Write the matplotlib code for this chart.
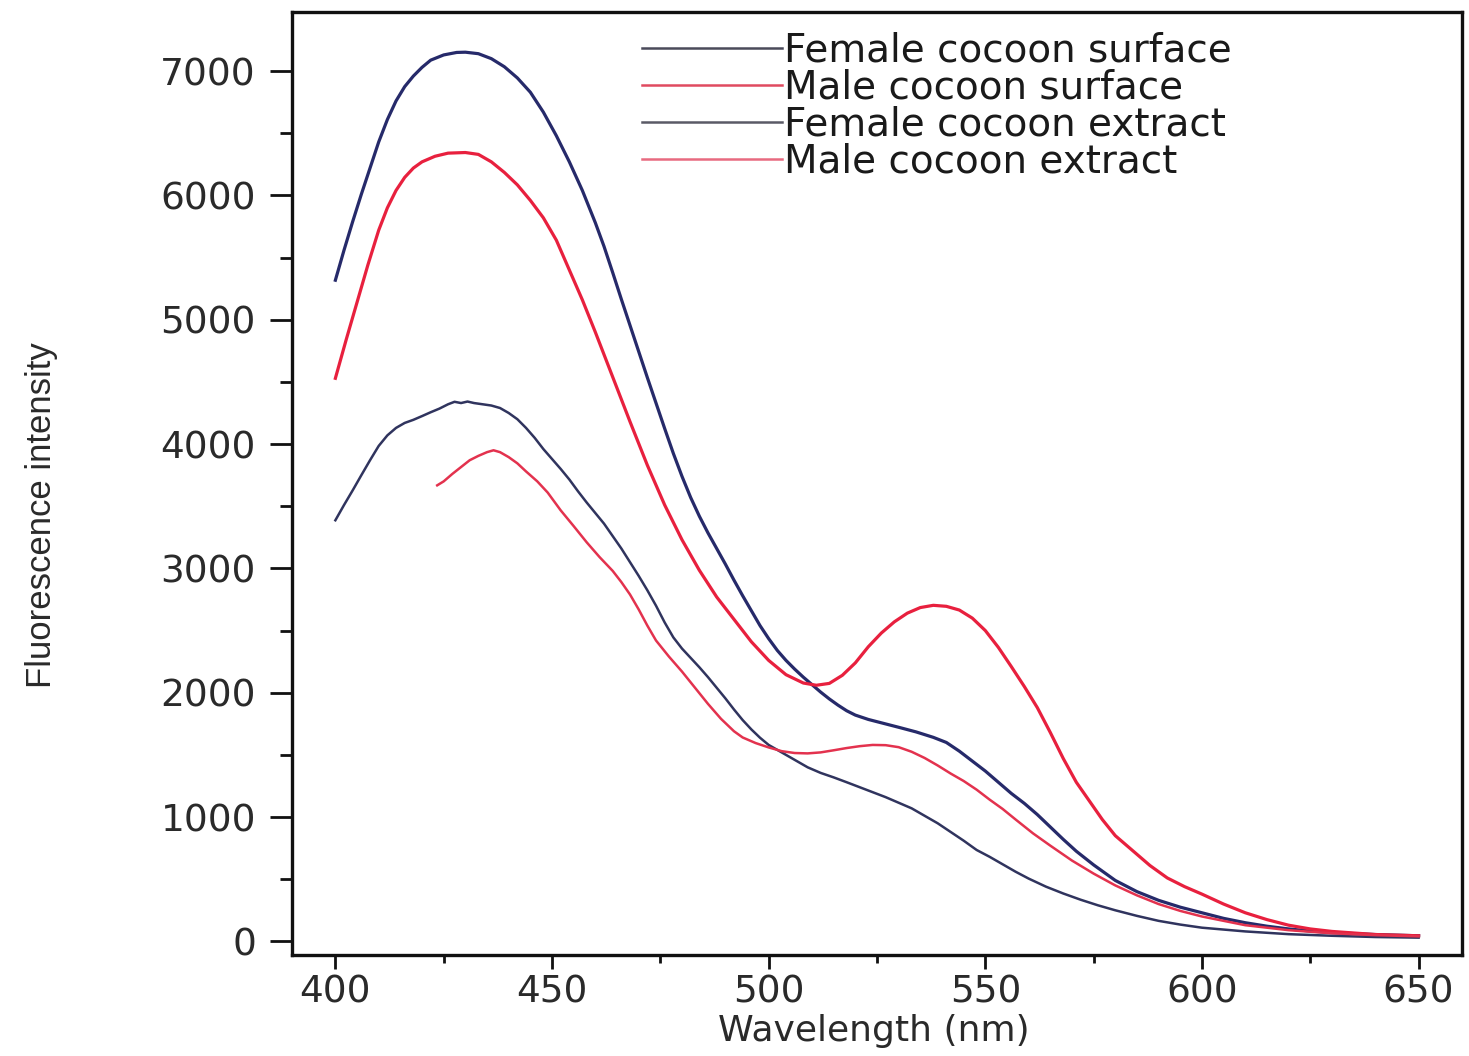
import matplotlib
matplotlib.use("Agg")
import matplotlib.pyplot as plt
from matplotlib.ticker import MultipleLocator

# ---------------- data ----------------
fs_nm = [400, 402, 404, 406, 408, 410, 412, 414, 416, 418, 420, 422, 425, 428, 430,
         433, 436, 439, 442, 445, 448, 451, 454, 457, 460, 462, 464, 466, 468, 470,
         472, 474, 476, 478, 480, 482, 484, 486, 488, 490, 492, 494, 496, 498, 500,
         502, 504, 506, 508, 510, 512, 514, 516, 518, 520, 523, 526, 530, 534, 538,
         541, 544, 547, 550, 553, 556, 559, 562, 565, 568, 571, 575, 580, 585, 590,
         595, 600, 605, 610, 615, 620, 625, 630, 640, 650]
fs_val = [5318, 5560, 5790, 6010, 6220, 6430, 6610, 6760, 6875, 6960, 7030, 7088, 7130,
          7150, 7152, 7140, 7100, 7035, 6945, 6830, 6670, 6480, 6270, 6040, 5780, 5590,
          5380, 5165, 4955, 4745, 4535, 4330, 4125, 3925, 3740, 3570, 3420, 3285, 3160,
          3035, 2905, 2780, 2660, 2540, 2435, 2340, 2260, 2190, 2125, 2065, 2005, 1950,
          1900, 1855, 1820, 1785, 1758, 1722, 1685, 1641, 1600, 1530, 1450, 1370, 1280,
          1190, 1110, 1020, 920, 820, 725, 615, 490, 400, 330, 275, 230, 185, 150, 122,
          100, 83, 70, 55, 45]

ms_nm = [400, 402.5, 405, 407.5, 410, 412, 414, 416, 418, 420, 423, 426, 430, 433, 436,
         439, 442, 445, 448, 451, 454, 457, 460, 464, 468, 472, 476, 480, 484, 488, 492,
         496, 500, 504, 508, 511, 514, 517, 520, 523, 526, 529, 532, 535, 538, 541, 544,
         547, 550, 553, 556, 559, 562, 565, 568, 571, 574, 577, 580, 584, 588, 592, 596,
         600, 605, 610, 615, 620, 625, 630, 640, 650]
ms_val = [4529, 4840, 5140, 5440, 5720, 5900, 6040, 6145, 6220, 6270, 6315, 6340, 6345,
          6330, 6270, 6185, 6085, 5960, 5820, 5640, 5400, 5160, 4900, 4540, 4180, 3830,
          3510, 3230, 2985, 2770, 2590, 2410, 2260, 2145, 2078, 2060, 2075, 2140, 2240,
          2370, 2480, 2570, 2640, 2685, 2703, 2695, 2665, 2600, 2500, 2365, 2210, 2050,
          1880, 1680, 1470, 1280, 1130, 980, 850, 730, 610, 510, 440, 380, 300, 230,
          175, 130, 100, 80, 55, 45]

fe_nm = [400, 402, 404, 406, 408, 410, 412, 414, 416, 418, 420, 422, 424, 426, 427.5,
         429, 430.5, 432, 434, 436, 438, 440, 442, 444, 446, 448, 450, 452, 454, 456,
         458, 460, 462, 464, 466, 468, 470, 472, 474, 476, 478, 480, 482, 484, 486, 488,
         490, 492, 494, 496, 498, 500, 503, 506, 509, 512, 515, 518, 521, 524, 527, 530,
         533, 536, 539, 542, 545, 548, 551, 554, 557, 560, 564, 568, 572, 576, 580, 585,
         590, 595, 600, 610, 620, 630, 640, 650]
fe_val = [3387, 3510, 3628, 3750, 3870, 3985, 4070, 4130, 4170, 4195, 4225, 4256, 4285,
          4320, 4340, 4330, 4342, 4330, 4320, 4310, 4290, 4250, 4200, 4130, 4050, 3960,
          3880, 3800, 3715, 3620, 3530, 3445, 3360, 3260, 3160, 3050, 2940, 2824, 2700,
          2565, 2445, 2355, 2280, 2205, 2125, 2040, 1955, 1865, 1780, 1705, 1638, 1580,
          1520, 1460, 1400, 1355, 1319, 1280, 1240, 1200, 1160, 1115, 1070, 1010, 950,
          880, 810, 735, 680, 620, 560, 505, 440, 385, 335, 290, 250, 205, 165, 135, 110,
          80, 58, 45, 35, 30]

me_nm = [423.5, 425, 427, 429, 431, 433, 435, 436.5, 438, 440, 442, 444, 446.6, 449,
         452, 455, 458, 461, 464, 466, 468, 470, 472, 474, 477, 480, 483, 486, 489, 492,
         494, 497, 500, 503, 506, 509, 512, 515, 518, 521, 524, 527, 530, 533, 536, 539,
         542, 545, 548, 551, 554, 557, 561, 565, 570, 575, 580, 585, 590, 595, 600, 610,
         620, 630, 640, 650]
me_val = [3668, 3700, 3760, 3815, 3870, 3905, 3935, 3950, 3935, 3895, 3845, 3780, 3700,
          3610, 3467, 3340, 3210, 3090, 2980, 2890, 2790, 2670, 2540, 2420, 2290, 2170,
          2040, 1910, 1790, 1690, 1640, 1595, 1560, 1530, 1515, 1512, 1520, 1537, 1555,
          1570, 1580, 1578, 1562, 1525, 1475, 1415, 1350, 1290, 1220, 1140, 1065, 980,
          869, 770, 650, 545, 450, 370, 300, 245, 200, 130, 90, 65, 50, 40]

labels = ["Female cocoon surface", "Male cocoon surface",
          "Female cocoon extract", "Male cocoon extract"]
x_ticks = [400, 450, 500, 550, 600, 650]
y_ticks = [0, 1000, 2000, 3000, 4000, 5000, 6000, 7000]

# ---------------- figure ----------------
fig = plt.figure(figsize=(14.69, 10.56), dpi=100)
ax = fig.add_axes([0.1988, 0.0956, 0.7964, 0.893])

navy = "#262a6a"
red = "#e8203e"
navy2 = "#30345e"
red2 = "#e3324e"

ax.plot(fs_nm, fs_val, color=navy, lw=2.3, label=labels[0])
ax.plot(ms_nm, ms_val, color=red, lw=2.3, label=labels[1])
ax.plot(fe_nm, fe_val, color=navy2, lw=1.8, label=labels[2])
ax.plot(me_nm, me_val, color=red2, lw=1.8, label=labels[3])

ax.set_xlim(390, 660)
ax.set_ylim(-110, 7475)
ax.set_xticks(x_ticks)
ax.set_yticks(y_ticks)
ax.xaxis.set_minor_locator(MultipleLocator(25))
ax.yaxis.set_minor_locator(MultipleLocator(500))

for s in ax.spines.values():
    s.set_linewidth(2.4)
    s.set_color("#111111")

ax.tick_params(which="both", direction="out", width=2.0, colors="#111111",
               top=False, right=False)
ax.tick_params(axis="y", which="major", length=16, pad=10, labelsize=27,
               labelcolor="#2a2a2a")
ax.tick_params(axis="y", which="minor", length=9)
ax.tick_params(axis="x", which="major", length=10, pad=4, labelsize=27,
               labelcolor="#2a2a2a")
ax.tick_params(axis="x", which="minor", length=6)
for lab in ax.get_xticklabels() + ax.get_yticklabels():
    lab.set_family("DejaVu Sans")

ax.set_xlabel("Wavelength (nm)", fontsize=26, family="DejaVu Sans",
              color="#2a2a2a")
ax.xaxis.set_label_coords(0.497, -0.063)
ax.set_ylabel("Fluorescence intensity", fontsize=25,
              family=["Liberation Sans Narrow", "Liberation Sans"],
              color="#2a2a2a")
ax.yaxis.set_label_coords(-0.2, 0.4666)

leg = ax.legend(loc="upper left", bbox_to_anchor=(0.2755, 1.008), frameon=False,
                prop={"family": "DejaVu Sans", "size": 28},
                handlelength=3.6, handletextpad=0.05, labelspacing=-0.03,
                borderpad=0.2)
for t in leg.get_texts():
    t.set_color("#1a1a1a")
hcols = ["#4a4a5a", "#e04a60", "#5a5a66", "#e86a80"]
for h, c in zip(leg.legend_handles, hcols):
    h.set_color(c)
    h.set_linewidth(1.8)

fig.savefig("out.png", dpi=100)
